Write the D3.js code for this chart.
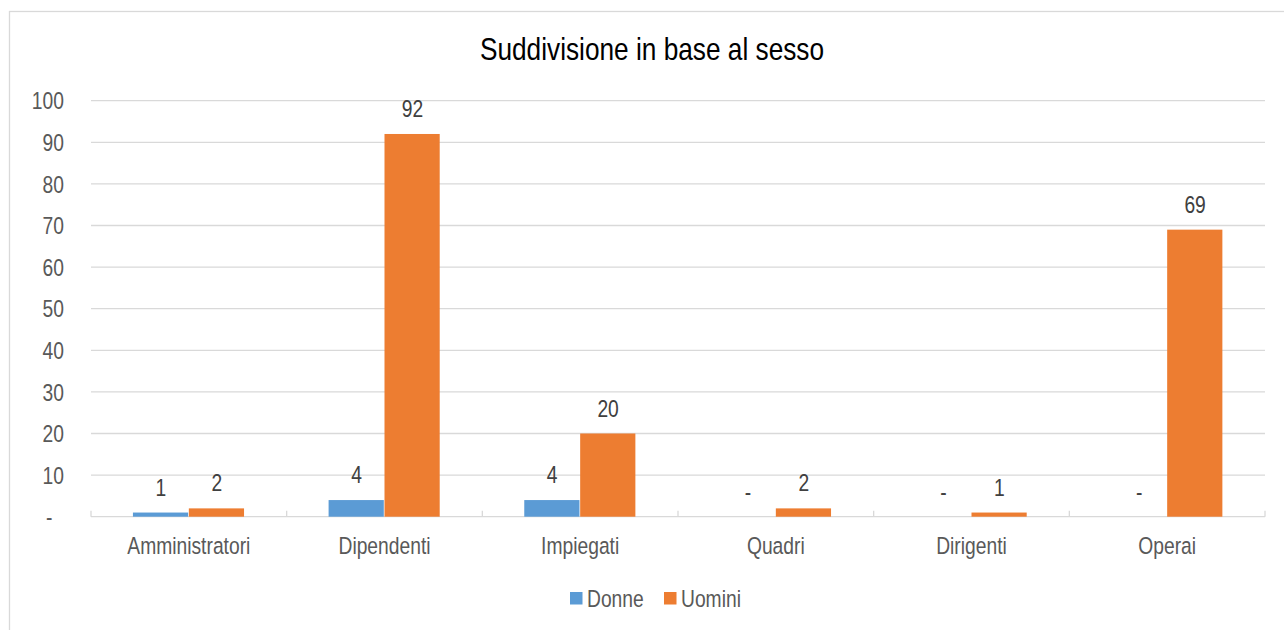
<!DOCTYPE html>
<html><head><meta charset="utf-8">
<script src="https://cdn.jsdelivr.net/npm/d3@7"></script>
<style>
body{margin:0;background:#fff;}
svg{display:block;}
text{font-family:"Liberation Sans Narrow","Arial Narrow","Liberation Sans",Arial,sans-serif;}
</style></head>
<body>
<svg id="chart" width="1284" height="630"></svg>
<script>
const categories = ["Amministratori","Dipendenti","Impiegati","Quadri","Dirigenti","Operai"];
const seriesNames = ["Donne","Uomini"];
const donne = [1,4,4,0,0,0];
const uomini = [2,92,20,2,1,69];
const yTicks = [0,10,20,30,40,50,60,70,80,90,100];
const colors = ["#5b9bd5","#ed7d31"];
const title = "Suddivisione in base al sesso";

const SX = 0.82;      // condensed look
const FS = 23.5;
const FF = '"Liberation Sans",Arial,sans-serif';
const svg = d3.select("#chart");
const m = {left:91, right:1265, top:100.7, bottom:516.7};

function narrowText(sel, x, y){
  sel.attr("x",0).attr("y",0)
     .attr("transform",(d,i)=>`translate(${typeof x==="function"?x(d,i):x},${typeof y==="function"?y(d,i):y}) scale(${SX},1)`);
}

// chart border
svg.append("rect").attr("x",9.5).attr("y",11.5).attr("width",1300).attr("height",700)
  .attr("fill","#fff").attr("stroke","#d9d9d9").attr("stroke-width",1.3);

svg.append("text").attr("text-anchor","middle").attr("font-family",FF)
  .attr("font-size",32).attr("fill","#000").text(title)
  .call(narrowText,652,60);

const y = d3.scaleLinear().domain([0,100]).range([m.bottom,m.top]);
const x0 = d3.scaleBand().domain(categories).range([m.left,m.right]).padding(0);
const bw = x0.bandwidth();
const barW = bw/3.5;
const x1 = d3.scaleBand().domain(seriesNames).range([0.75*barW, bw-0.75*barW]).padding(0);

// gridlines
svg.append("g").selectAll("line").data(yTicks.filter(d=>d>0)).join("line")
  .attr("x1",m.left).attr("x2",m.right)
  .attr("y1",d=>y(d)).attr("y2",d=>y(d))
  .attr("stroke","#d9d9d9").attr("stroke-width",1.3);

// y labels
const yAxis = d3.axisLeft(y).tickValues(yTicks).tickSize(0).tickPadding(0)
  .tickFormat(d=> d===0 ? "-" : d);
const gy = svg.append("g").attr("transform",`translate(64,0)`).call(yAxis);
gy.select(".domain").remove();
gy.selectAll("text").attr("font-size",FS).attr("fill","#595959")
  .attr("font-family",FF).attr("dy","0.35em")
  .attr("transform",`scale(${SX},1)`);
gy.selectAll(".tick").filter(d=>d===0).select("text").attr("dx",-14);

// x axis
const xAxis = d3.axisBottom(x0).tickSize(0).tickPadding(0);
const gx = svg.append("g").attr("transform",`translate(0,${m.bottom})`).call(xAxis);
gx.select(".domain").attr("stroke","#d9d9d9").attr("stroke-width",1.3).attr("d",`M${m.left},0H${m.right}`);
gx.selectAll("text").attr("font-size",FS).attr("fill","#595959")
  .attr("font-family",FF).attr("y",37).attr("dy",null)
  .attr("transform",`scale(${SX},1)`);
// category boundary ticks
const bounds = categories.map(c=>x0(c)).concat([m.right]);
svg.append("g").selectAll("line").data(bounds).join("line")
  .attr("x1",d=>d).attr("x2",d=>d).attr("y1",m.bottom-6).attr("y2",m.bottom)
  .attr("stroke","#d9d9d9").attr("stroke-width",1.3);

const data = categories.map((c,i)=>({cat:c, vals:[donne[i],uomini[i]]}));
const groups = svg.append("g").selectAll("g").data(data).join("g")
  .attr("transform",d=>`translate(${x0(d.cat)},0)`);
groups.selectAll("rect").data(d=>d.vals.map((v,j)=>({s:seriesNames[j],v,j}))).join("rect")
  .attr("x",d=>x1(d.s)).attr("width",x1.bandwidth()-0.7)
  .attr("y",d=>y(d.v)).attr("height",d=>y(0)-y(d.v))
  .attr("fill",d=>colors[d.j]);
groups.selectAll("text").data(d=>d.vals.map((v,j)=>({s:seriesNames[j],v,j}))).join("text")
  .attr("text-anchor","middle").attr("font-size",FS).attr("fill","#404040").attr("font-family",FF)
  .text(d=>d.v===0?"-":d.v)
  .call(narrowText, d=>x1(d.s)+x1.bandwidth()/2, d=>y(d.v)-17);

// legend
const leg = svg.append("g").attr("transform","translate(570,592)");
const items = [{n:"Donne",c:colors[0],x:0},{n:"Uomini",c:colors[1],x:94}];
items.forEach(it=>{
  leg.append("rect").attr("x",it.x).attr("y",0).attr("width",12.5).attr("height",12.5).attr("fill",it.c);
  leg.append("text").attr("font-size",FS).attr("fill","#595959").attr("font-family",FF).text(it.n)
    .call(narrowText,it.x+17,14.5);
});
</script>
</body></html>
